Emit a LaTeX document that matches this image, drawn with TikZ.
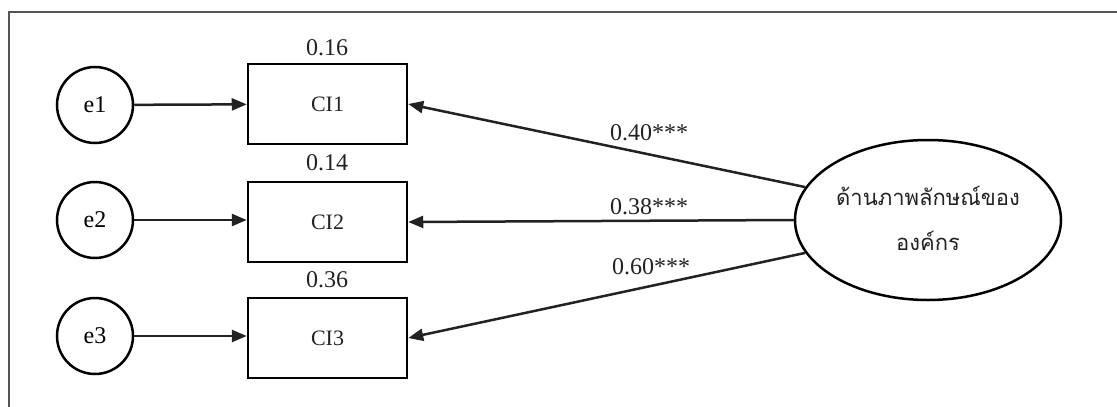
\documentclass[tikz,border=0pt]{standalone}
\usepackage{fontspec}
\setmainfont{Liberation Serif}
\newfontfamily\thaifont[Script=Thai]{Loma}
\usetikzlibrary{arrows.meta,shapes.geometric}
\definecolor{ink}{HTML}{222222}
\definecolor{framegray}{HTML}{555555}
\begin{document}
\begin{tikzpicture}[x=1pt,y=-1pt,
  txt/.style={font=\fontsize{24}{28}\selectfont, text=ink, inner sep=0pt},
  errc/.style={circle, draw=black, line width=2.5pt, minimum size=76pt, inner sep=0pt, font=\fontsize{24}{28}\selectfont},
  obsbox/.style={rectangle, draw=black, line width=2.5pt, minimum width=159pt, minimum height=80pt, inner sep=0pt, font=\fontsize{22}{26}\selectfont, text=ink},
  latent/.style={ellipse, draw=black, line width=2.5pt, minimum width=266pt, minimum height=160pt, inner sep=0pt, align=center},
  path/.style={draw=ink, line width=2.5pt, -{Triangle[length=15pt,width=12pt]}}
]
\useasboundingbox (0,0) rectangle (1117,407);
\draw[framegray, line width=1.5pt] (9,407) -- (9,12) -- (1117,12);

\node[errc] (e1) at (95,105) {e1};
\node[errc] (e2) at (95,220) {e2};
\node[errc] (e3) at (95,336) {e3};

\node[obsbox] (CI1) at (327.5,104) {CI1};
\node[obsbox] (CI2) at (327.5,222) {CI2};
\node[obsbox] (CI3) at (327.5,338) {CI3};

\node[txt] (r1) at (327,48) {0.16};
\node[txt] (r2) at (327,163) {0.14};
\node[txt] (r3) at (327,280) {0.36};

\node[latent] (F) at (928,220) {};
\node[font=\thaifont\fontsize{22}{45}\selectfont, text=ink, align=center, inner sep=0pt] (Ft) at (928,218) {ด้านภาพลักษณ์ของ\\องค์กร};

\draw[path] (e1) -- (CI1);
\draw[path] (e2) -- (e2 -| CI2.west);
\draw[path] (e3) -- (e3 -| CI3.west);

\draw[path] (F.165) -- (CI1.east);
\draw[path] (F.west) -- (CI2.east);
\draw[path] (F.195) -- (CI3.east);

\node[txt] (l1) at (649,133) {0.40***};
\node[txt] (l2) at (649,207) {0.38***};
\node[txt] (l3) at (651,267) {0.60***};
\end{tikzpicture}
\end{document}
